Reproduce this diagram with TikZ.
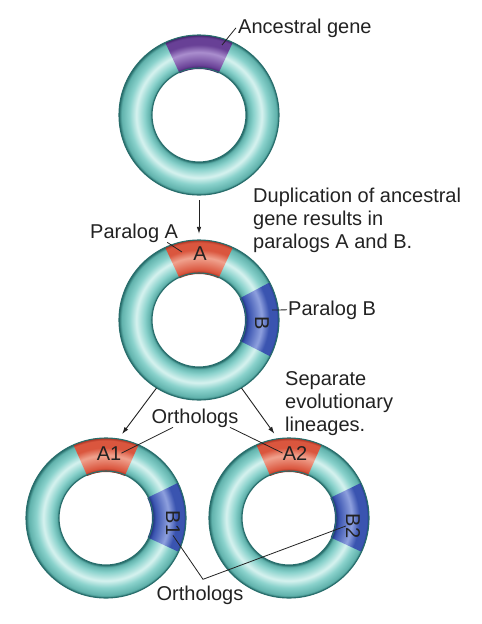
\documentclass[tikz,border=0pt]{standalone}
\usepackage{fontspec}
\setmainfont{Liberation Sans}
\usepackage{xcolor}
\usepackage{tikz}
\usetikzlibrary{arrows.meta,calc}
\definecolor{clrRingedge}{RGB}{40,110,108}
\definecolor{clrRingdeep}{RGB}{96,178,172}
\definecolor{clrRingfill}{RGB}{138,210,204}
\definecolor{clrRinglight}{RGB}{214,242,239}
\definecolor{clrAncedge}{RGB}{62,34,104}
\definecolor{clrAncfill}{RGB}{104,64,150}
\definecolor{clrAnclight}{RGB}{170,142,206}
\definecolor{clrParAedge}{RGB}{168,50,34}
\definecolor{clrParAfill}{RGB}{218,86,62}
\definecolor{clrParAlight}{RGB}{240,162,142}
\definecolor{clrParBedge}{RGB}{34,52,132}
\definecolor{clrParBfill}{RGB}{58,84,176}
\definecolor{clrParBlight}{RGB}{142,160,222}
\definecolor{clrText}{RGB}{34,34,34}
% band profiles: outer rim = 25bp, hole = 14.7bp
\pgfdeclareradialshading{ringshade}{\pgfpoint{0bp}{0bp}}{%
  color(0bp)=(clrRingedge); color(14.7bp)=(clrRingedge); color(15.4bp)=(clrRingdeep);
  color(17bp)=(clrRingfill); color(19.6bp)=(clrRinglight); color(21.8bp)=(clrRingfill);
  color(24.2bp)=(clrRingdeep); color(25bp)=(clrRingedge); color(50bp)=(clrRingedge)}
\pgfdeclareradialshading{ancshade}{\pgfpoint{0bp}{0bp}}{%
  color(0bp)=(clrAncedge); color(14.7bp)=(clrAncedge); color(15.6bp)=(clrAncfill);
  color(19.6bp)=(clrAnclight); color(22bp)=(clrAncfill);
  color(24.2bp)=(clrAncfill); color(25bp)=(clrAncedge); color(50bp)=(clrAncedge)}
\pgfdeclareradialshading{parAshade}{\pgfpoint{0bp}{0bp}}{%
  color(0bp)=(clrParAedge); color(14.7bp)=(clrParAedge); color(15.6bp)=(clrParAfill);
  color(19.6bp)=(clrParAlight); color(22bp)=(clrParAfill);
  color(24.2bp)=(clrParAfill); color(25bp)=(clrParAedge); color(50bp)=(clrParAedge)}
\pgfdeclareradialshading{parBshade}{\pgfpoint{0bp}{0bp}}{%
  color(0bp)=(clrParBedge); color(14.7bp)=(clrParBedge); color(15.6bp)=(clrParBfill);
  color(19.6bp)=(clrParBlight); color(22bp)=(clrParBfill);
  color(24.2bp)=(clrParBfill); color(25bp)=(clrParBedge); color(50bp)=(clrParBedge)}
\tikzset{
  ringslot/.style={circle, minimum size=160pt, inner sep=0pt},
  ringrim/.style={draw=clrRingedge, line width=1.1pt},
  lbl/.style={font=\fontsize{20}{23}\selectfont, text=clrText, inner sep=0pt},
  leader/.style={draw=clrText, line width=0.8pt},
  figflow/.style={-{Latex[length=7pt,width=4.6pt]}, draw=clrText, line width=0.9pt}
}
\newcommand{\ringbody}[1]{%
  \shade[shading=ringshade] (#1.center) circle[radius=80];
  \fill[white] (#1.center) circle[radius=47];}
\newcommand{\ringgene}[4]{%
  \begin{scope}
    \clip ($(#1.center)+(#2:81)$) arc[start angle=#2, end angle=#3, radius=81]
      -- ($(#1.center)+(#3:46)$) arc[start angle=#3, end angle=#2, radius=46] -- cycle;
    \shade[shading=#4] (#1.center) circle[radius=80];
  \end{scope}}
\newcommand{\ringedge}[1]{%
  \draw[ringrim] (#1.center) circle[radius=80] (#1.center) circle[radius=47];}

\begin{document}
\begin{tikzpicture}[x=1pt, y=1pt]
\useasboundingbox (0,0) rectangle (482,-624);
\fill[white] (0,0) rectangle (482,-624);

% rings
\node[ringslot] (anc) at (199,-115) {};
\node[ringslot] (dup) at (199,-320) {};
\node[ringslot] (linL) at (106,-518) {};
\node[ringslot] (linR) at (289,-518) {};

\ringbody{anc} \ringgene{anc}{65}{115}{ancshade} \ringedge{anc}
\ringbody{dup} \ringgene{dup}{65}{115}{parAshade} \ringgene{dup}{-27}{28}{parBshade} \ringedge{dup}
\ringbody{linL} \ringgene{linL}{66}{114}{parAshade} \ringgene{linL}{-25}{26}{parBshade} \ringedge{linL}
\ringbody{linR} \ringgene{linR}{66}{114}{parAshade} \ringgene{linR}{-25}{26}{parBshade} \ringedge{linR}

% labels
\node[lbl, anchor=base west] (ancName) at (238,-33) {Ancestral gene};
\node[lbl, anchor=base west] (parAName) at (90,-238) {Paralog A};
\node[lbl, anchor=base west] (parBName) at (288,-315) {Paralog B};
\node[lbl, align=left, anchor=north west] (dupNote) at (253,-188)
  {Duplication of ancestral\\gene results in\\paralogs A and B.};
\node[lbl, align=left, anchor=north west] (sepNote) at (285,-371)
  {Separate\\evolutionary\\lineages.};
\node[lbl, anchor=base] (orthoTop) at (195,-423) {Orthologs};
\node[lbl, anchor=base] (orthoBot) at (200,-600) {Orthologs};

\node[lbl, anchor=base] (geneA) at (200,-260) {A};
\node[lbl, rotate=-90] (geneB) at (262,-323) {B};
\node[lbl, anchor=base] (geneA1) at (109,-460) {A1};
\node[lbl, anchor=base] (geneA2) at (295,-460) {A2};
\node[lbl, rotate=-90] (geneB1) at (173,-523) {B1};
\node[lbl, rotate=-90] (geneB2) at (353,-526) {B2};

% leader lines
\coordinate (ancPt) at (222,-45);
\coordinate (parAPt) at (182,-252);
\coordinate (parBPt) at (272,-310);
\coordinate (orthoKnee) at ([xshift=3pt, yshift=6pt]orthoBot.north);

\draw[leader] (ancPt) -- ([xshift=-2pt]ancName.west);
\draw[leader] ([xshift=-11pt]parAName.south east) -- (parAPt);
\draw[leader] (parBPt) -- ([xshift=-1pt]parBName.west);
\draw[leader] ([xshift=-22pt]orthoTop.south) -- (geneA1.east);
\draw[leader] ([xshift=35pt]orthoTop.south) -- (geneA2.west);
\draw[leader] (geneB1.east) -- (orthoKnee) -- (geneB2.south);

% lineage arrows
\draw[figflow, shorten <=5pt, shorten >=6pt] (anc.south) -- (dup.north);
\draw[figflow, shorten >=6pt] (dup.238) -- (linL.81);
\draw[figflow, shorten >=6pt] (dup.302) -- (linR.98);

\end{tikzpicture}
\end{document}
